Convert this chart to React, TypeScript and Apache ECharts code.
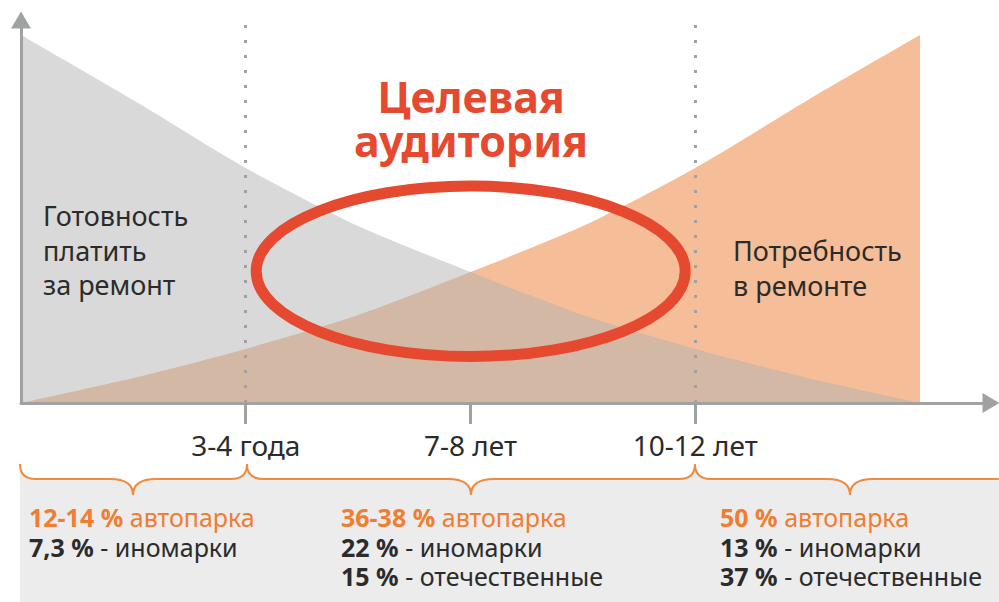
import React, { useEffect, useRef } from "react";
import * as echarts from "echarts";

// ---- data ----
const xPos = [0, 12.5, 25, 37.5, 50, 62.5, 75, 87.5, 100];
const readiness = [100, 82.3, 63.9, 48.1, 35.6, 23.9, 14.7, 6.8, 0];
const need = [0, 6.8, 14.7, 23.9, 35.6, 48.1, 63.9, 82.3, 100];
const tickValues = [25, 50, 75];
const tickLabels = ["3-4 года", "7-8 лет", "10-12 лет"];
const dividerValues = [25, 75];
const parkShare = ["12-14 %", "36-38 %", "50 %"];
const foreignShare = ["7,3 %", "22 %", "13 %"];
const domesticShare = ["", "15 %", "37 %"];
const titleText = "Целевая\nаудитория";
const leftText = "Готовность\nплатить\nза ремонт";
const rightText = "Потребность\nв ремонте";

const FONT = '"Noto Sans", sans-serif';
const ORANGE_TXT = "#ef7d32";
const DARK = "#2b2b2b";
const AXIS = "#a0a1a1";

const braceLine =
  "M20,464 Q20,479 36,479 L110,479 Q133,479 133,495 Q133,479 156,479 L231,479 Q247,479 247,464 Q247,479 263,479 L448,479 Q471,479 471,495 Q471,479 494,479 L679,479 Q695,479 695,464 Q695,479 711,479 L827,479 Q850,479 850,495 Q850,479 873,479 L996,479 Q1012,479 1012,464";
const braceFill = braceLine + " L1012,602 L20,602 Z";

echarts.graphic.registerShape("braceLineShape", echarts.graphic.extendPath(braceLine, {}));
echarts.graphic.registerShape("braceFillShape", echarts.graphic.extendPath(braceFill, {}));

export default function App() {
  const ref = useRef<HTMLDivElement>(null);
  useEffect(() => {
    if (!ref.current) return;
    const chart = echarts.init(ref.current, undefined, { renderer: "svg" });
    const colX = [29, 341, 720];
    const colTexts = parkShare.map((p, i) => {
      let s = `{o|${p}}{p| автопарка}\n{b|${foreignShare[i]}}{r| - иномарки}`;
      if (domesticShare[i]) s += `\n{b|${domesticShare[i]}}{r| - отечественные}`;
      return s;
    });
    const fs = 25;
    const lh = 29.5;
    const rich = {
      o: { fontFamily: FONT, fontSize: fs, fontWeight: "bold", fill: ORANGE_TXT, color: ORANGE_TXT, lineHeight: lh },
      p: { fontFamily: FONT, fontSize: fs, fontWeight: "normal", fill: ORANGE_TXT, color: ORANGE_TXT, lineHeight: lh },
      b: { fontFamily: FONT, fontSize: fs, fontWeight: "bold", fill: DARK, color: DARK, lineHeight: lh },
      r: { fontFamily: FONT, fontSize: fs, fontWeight: "normal", fill: DARK, color: DARK, lineHeight: lh },
    };
    chart.setOption({
      animation: false,
      grid: { left: 21, right: 8, top: 20, bottom: 199 },
      xAxis: {
        type: "value",
        min: 0,
        max: 107.9,
        z: 10,
        splitLine: { show: false },
        axisLine: {
          show: true,
          lineStyle: { color: AXIS, width: 3 },
          symbol: ["none", "triangle"],
          symbolSize: [20, 17],
        },
        axisTick: {
          show: true,
          customValues: tickValues,
          length: 21,
          lineStyle: { color: AXIS, width: 3 },
        },
        axisLabel: {
          show: true,
          customValues: tickValues,
          margin: 28,
          fontFamily: FONT,
          fontSize: 28,
          color: DARK,
          formatter: (v: number) => {
            const i = tickValues.indexOf(v);
            return i >= 0 ? tickLabels[i] : "";
          },
        },
      },
      yAxis: {
        type: "value",
        min: 0,
        max: 104.1,
        z: 10,
        splitLine: { show: false },
        axisTick: { show: false },
        axisLabel: { show: false },
        axisLine: {
          show: true,
          lineStyle: { color: AXIS, width: 3 },
          symbol: ["none", "triangle"],
          symbolSize: [20, 17],
        },
      },
      series: [
        {
          type: "line",
          name: "Потребность в ремонте",
          data: xPos.map((x, i) => [x, need[i]]),
          smooth: 0.25,
          showSymbol: false,
          lineStyle: { opacity: 0 },
          areaStyle: { color: "#f5bd98", opacity: 1 },
          silent: true,
        },
        {
          type: "line",
          name: "Готовность платить за ремонт",
          data: xPos.map((x, i) => [x, readiness[i]]),
          smooth: 0.25,
          showSymbol: false,
          lineStyle: { opacity: 0 },
          areaStyle: { color: "rgba(177,179,177,0.5)", opacity: 1 },
          silent: true,
          markLine: {
            silent: true,
            symbol: ["none", "none"],
            label: { show: false },
            lineStyle: { color: AXIS, width: 3, type: [3, 12], cap: "butt" },
            data: dividerValues.map((v) => ({ xAxis: v })),
          },
        },
      ],
      graphic: {
        elements: [
          { type: "braceFillShape", x: 0, y: 0, z: 1, style: { fill: "#ebeceb" } },
          { type: "braceLineShape", x: 0, y: 0, z: 2, style: { fill: "none", stroke: "#f08a3c", lineWidth: 2 } },
          {
            type: "ellipse",
            z: 100,
            shape: { cx: 470.7, cy: 271.3, rx: 214.5, ry: 85.2 },
            style: { fill: "none", stroke: "#e5492f", lineWidth: 11 },
          },
          {
            type: "text",
            z: 100,
            x: 471,
            y: 74.3,
            style: {
              text: titleText,
              font: `bold 43px ${FONT}`,
              fill: "#e5492f",
              align: "center",
              textAlign: "center",
              verticalAlign: "top",
              textVerticalAlign: "top",
              lineHeight: 44,
            },
          },
          {
            type: "text",
            z: 100,
            x: 43,
            y: 198.3,
            style: {
              text: leftText,
              font: `27px ${FONT}`,
              fill: DARK,
              align: "left",
              verticalAlign: "top",
              lineHeight: 34.5,
            },
          },
          {
            type: "text",
            z: 100,
            x: 733,
            y: 233.3,
            style: {
              text: rightText,
              font: `27px ${FONT}`,
              fill: DARK,
              align: "left",
              verticalAlign: "top",
              lineHeight: 34.5,
            },
          },
          ...colTexts.map((t, i) => ({
            type: "text",
            z: 100,
            x: colX[i],
            y: 502.5,
            style: {
              text: t,
              rich,
              font: `${fs}px ${FONT}`,
              fill: DARK,
              align: "left",
              verticalAlign: "top",
              lineHeight: lh,
            },
          })),
        ],
      },
    });
    return () => chart.dispose();
  }, []);
  return (
    <div
      ref={ref}
      style={{ position: "absolute", left: 0, top: 0, width: 999, height: 602 }}
    />
  );
}
